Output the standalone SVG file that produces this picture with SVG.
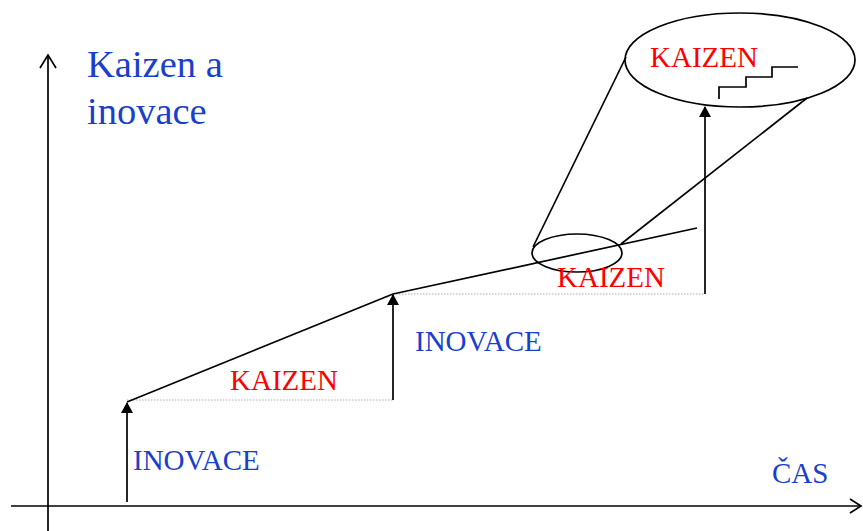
<svg xmlns="http://www.w3.org/2000/svg" width="863" height="531" viewBox="0 0 863 531">
<style>
.ln{stroke:#000;stroke-width:1.7;fill:none}
.dot{stroke:#aaa;stroke-width:1;stroke-dasharray:1.5 1.5;fill:none}
.t{font-family:"Liberation Serif","Times New Roman",serif;font-size:29px}
.blue{fill:#1a3fcc}
.red{fill:#ff0000}
.title{font-family:"Liberation Serif","Times New Roman",serif;font-size:38.5px;fill:#1a3fcc}
</style>
<defs>
<marker id="fa" markerWidth="11" markerHeight="12" refX="10" refY="6" orient="auto" markerUnits="userSpaceOnUse" viewBox="0 0 11 12">
<path d="M0,0 L11,6 L0,12 Z" fill="#000"/>
</marker>
</defs>
<g id="axes">
<line class="ln" x1="48" y1="56" x2="48" y2="531"/>
<polyline class="ln" points="40,68 48,55 56,68"/>
<line class="ln" x1="11" y1="506" x2="860" y2="506"/>
<polyline class="ln" points="850,499 861,506 850,513"/>
</g>
<g id="title">
<text class="title" x="87" y="77">Kaizen a</text>
<text class="title" x="87" y="124">inovace</text>
</g>
<g id="connectors">
<line class="dot" x1="127" y1="400" x2="393" y2="400"/>
<line class="dot" x1="393" y1="294" x2="705" y2="294"/>
<line class="ln" x1="127" y1="502" x2="127" y2="403" marker-end="url(#fa)"/>
<line class="ln" x1="393" y1="400" x2="393" y2="295" marker-end="url(#fa)"/>
<line class="ln" x1="705" y1="294" x2="705" y2="107" marker-end="url(#fa)"/>
<line class="ln" x1="127" y1="402" x2="393" y2="294"/>
<line class="ln" x1="393" y1="294" x2="697" y2="228"/>
<line class="ln" x1="626" y1="57" x2="533" y2="247"/>
<line class="ln" x1="807" y1="98" x2="621" y2="244"/>
</g>
<g id="small-ellipse">
<ellipse class="ln" cx="577" cy="253" rx="45" ry="19"/>
</g>
<g id="big-ellipse">
<ellipse class="ln" cx="740" cy="60" rx="115" ry="47"/>
<text class="t red" x="650" y="67">KAIZEN</text>
<polyline class="ln" points="719,99 719,87 746,87 746,77 772,77 772,67 798,67"/>
</g>
<g id="label-inovace-1"><text class="t blue" x="133" y="470">INOVACE</text></g>
<g id="label-kaizen-1"><text class="t red" x="230" y="390">KAIZEN</text></g>
<g id="label-inovace-2"><text class="t blue" x="415" y="351">INOVACE</text></g>
<g id="label-kaizen-2"><text class="t red" x="557" y="287">KAIZEN</text></g>
<g id="label-cas"><text class="t blue" x="772" y="483">ČAS</text></g>
</svg>
